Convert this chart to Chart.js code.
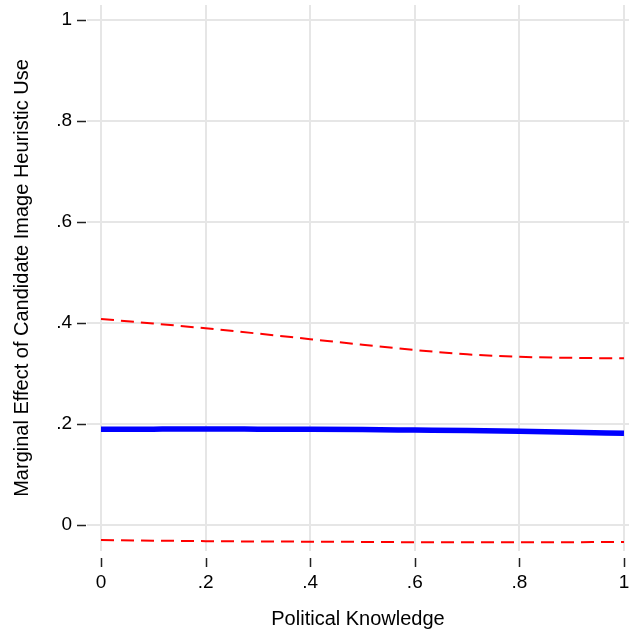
<html lang="en">

<head>
    <meta charset="UTF-8">
    <title>Marginal effect</title>
    <script src="https://cdn.jsdelivr.net/npm/chart.js"></script>
    <style>
        body { margin: 0; background: #fff; }
    </style>
</head>

<body>
    <canvas id="myChart" width="629" height="631"></canvas>

    <script>
        // data
        const knowledge = [0, 0.1, 0.2, 0.3, 0.4, 0.5, 0.6, 0.7, 0.8, 0.9, 1];
        const effect = [0.1895, 0.1898, 0.19, 0.1898, 0.1895, 0.189, 0.188, 0.187, 0.1855, 0.1837, 0.1815];
        const upper = [0.408, 0.399, 0.3895, 0.379, 0.368, 0.357, 0.3465, 0.338, 0.333, 0.331, 0.330];
        const lower = [-0.0297, -0.031, -0.032, -0.0327, -0.033, -0.0335, -0.034, -0.034, -0.034, -0.034, -0.0337];

        const xTicks = [0, 0.2, 0.4, 0.6, 0.8, 1];
        const xTickLabels = ['0', '.2', '.4', '.6', '.8', '1'];
        const yTicks = [0, 0.2, 0.4, 0.6, 0.8, 1];
        const yTickLabels = ['0', '.2', '.4', '.6', '.8', '1'];

        const font = 'Liberation Sans, Arial, sans-serif';

        function toPoints(ys) {
            return knowledge.map((x, i) => ({ x: x, y: ys[i] }));
        }

        //small outside tick marks with a gap, like the original
        const tickMarks = {
            id: 'tickMarks',
            afterDraw(chart) {
                const ctx = chart.ctx;
                const area = chart.chartArea;
                ctx.save();
                ctx.strokeStyle = '#222';
                ctx.lineWidth = 1.5;
                ctx.beginPath();
                chart.scales.y.ticks.forEach(t => {
                    const py = Math.round(chart.scales.y.getPixelForValue(t.value)) + 0.5;
                    ctx.moveTo(area.left - 10, py);
                    ctx.lineTo(area.left - 1, py);
                });
                chart.scales.x.ticks.forEach(t => {
                    const px = Math.round(chart.scales.x.getPixelForValue(t.value)) + 0.5;
                    ctx.moveTo(px, area.bottom + 7);
                    ctx.lineTo(px, area.bottom + 16);
                });
                ctx.stroke();
                ctx.restore();
            }
        };

        let ctx = document.getElementById("myChart").getContext("2d");
        let myChart = new Chart(ctx, {
            type: 'line',
            data: {
                datasets: [
                    {
                        label: 'upper',
                        data: toPoints(upper),
                        borderColor: '#ff0000',
                        borderWidth: 2,
                        borderDash: [13, 7],
                        pointRadius: 0,
                        cubicInterpolationMode: 'monotone'
                    },
                    {
                        label: 'lower',
                        data: toPoints(lower),
                        borderColor: '#ff0000',
                        borderWidth: 2,
                        borderDash: [13, 7],
                        pointRadius: 0,
                        cubicInterpolationMode: 'monotone'
                    },
                    {
                        label: 'effect',
                        data: toPoints(effect),
                        borderColor: '#0000ff',
                        borderWidth: 5.5,
                        pointRadius: 0,
                        cubicInterpolationMode: 'monotone'
                    }]
            },
            options: {
                responsive: false,
                animation: false,
                layout: { padding: { top: 5, right: 0, bottom: 0, left: 0 } },
                plugins: {
                    legend: { display: false },
                    tooltip: { enabled: false }
                },
                scales: {
                    x: {
                        type: 'linear',
                        min: -0.0268,
                        max: 1.0096,
                        afterBuildTicks: s => { s.ticks = xTicks.map(v => ({ value: v })); },
                        afterFit: s => { s.height = 80; s.paddingLeft = 0; s.paddingRight = 0; },
                        border: { display: false },
                        grid: { color: '#e6e6e6', lineWidth: 2, drawTicks: false },
                        ticks: {
                            padding: 20,
                            color: '#000',
                            font: { family: font, size: 19 },
                            maxRotation: 0,
                            callback: (v, i) => xTickLabels[i]
                        },
                        title: {
                            display: true,
                            text: 'Political Knowledge',
                            color: '#000',
                            font: { family: font, size: 20 },
                            padding: { top: 0, bottom: 0 }
                        }
                    },
                    y: {
                        min: -0.0515,
                        max: 1.0297,
                        afterBuildTicks: s => { s.ticks = yTicks.map(v => ({ value: v })); },
                        afterFit: s => { s.width = 87; s.paddingTop = 0; s.paddingBottom = 0; },
                        border: { display: false },
                        grid: { color: '#e6e6e6', lineWidth: 2, drawTicks: false },
                        ticks: {
                            padding: 15,
                            color: '#000',
                            font: { family: font, size: 19 },
                            callback: (v, i) => yTickLabels[i]
                        },
                        title: {
                            display: true,
                            text: 'Marginal Effect of Candidate Image Heuristic Use',
                            color: '#000',
                            font: { family: font, size: 20 },
                            padding: { top: 10, bottom: 0 }
                        }
                    }
                }
            },
            plugins: [tickMarks]
        });
    </script>

</body>

</html>
